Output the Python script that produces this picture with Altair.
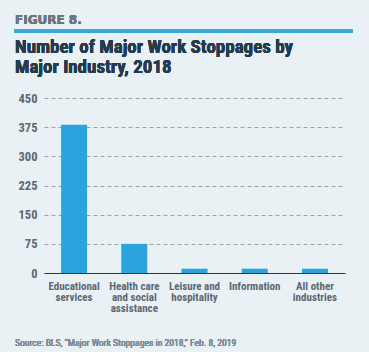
import altair as alt
import pandas as pd

categories = ["Educational|services", "Health care|and social|assistance",
              "Leisure and|hospitality", "Information", "All other|industries"]
values = [381, 75, 11, 11, 11]
y_ticks = [0, 75, 150, 225, 300, 375, 450]

df = pd.DataFrame({"industry": categories, "stoppages": values})

FONT = "'Roboto Condensed', 'DejaVu Sans Condensed', Roboto, sans-serif"
BG = "#eaf1f5"

bars = alt.Chart(df).mark_bar(color="#2aa4de").encode(
    x=alt.X("industry:N", sort=categories,
            scale=alt.Scale(paddingInner=0.568, paddingOuter=0.284),
            axis=alt.Axis(title=None, labelAngle=0, labelExpr="split(datum.label, '|')",
                          labelFont=FONT, labelFontSize=11, labelFontWeight="bold",
                          labelColor="#5b6873", labelLineHeight=11, labelPadding=7,
                          ticks=False, domainColor="#333333", domainWidth=1.2,
                          labelBaseline="top")),
    y=alt.Y("stoppages:Q", scale=alt.Scale(domain=[0, 450], nice=False),
            axis=alt.Axis(title=None, values=y_ticks, labelFont=FONT, labelFontSize=12.5,
                          labelFontWeight="bold", labelColor="#5b6873", labelPadding=7,
                          ticks=False, domain=False, grid=True, gridDash=[4, 3],
                          gridColor="#9aa3aa", gridWidth=1)),
)

fig_label = alt.Chart(df).mark_text(
    text="FIGURE 8.", font="DejaVu Sans", fontSize=12, fontWeight="bold",
    color="#6a7680", align="left", baseline="alphabetic"
).encode(x=alt.value(-29), y=alt.value(-74))

blue_line = alt.Chart(df).mark_rule(color="#3aa8dc", strokeWidth=3.5).encode(
    x=alt.value(-30), x2=alt.value(309), y=alt.value(-67))

title1 = alt.Chart(df).mark_text(
    text="Number of Major Work Stoppages by", font=FONT, fontSize=19, fontWeight="bold",
    color="#263a4d", align="left", baseline="alphabetic"
).encode(x=alt.value(-29), y=alt.value(-44.7))

title2 = alt.Chart(df).mark_text(
    text="Major Industry, 2018", font=FONT, fontSize=19, fontWeight="bold",
    color="#263a4d", align="left", baseline="alphabetic"
).encode(x=alt.value(-29), y=alt.value(-24.7))

source = alt.Chart(df).mark_text(
    text="Source: BLS, \u201cMajor Work Stoppages in 2018,\u201d Feb. 8, 2019", font=FONT,
    fontSize=9.6, color="#7f8b95", align="left", baseline="alphabetic"
).encode(x=alt.value(-29), y=alt.value(248))

chart = alt.layer(bars, fig_label, blue_line, title1, title2, source).properties(
    width=301, height=175,
    autosize=alt.AutoSizeParams(type="none"),
    padding={"left": 44, "top": 98, "right": 24, "bottom": 79},
    background=BG,
).configure_view(stroke=None)

chart.save("out.html", embed_options={"renderer": "svg", "actions": False})
